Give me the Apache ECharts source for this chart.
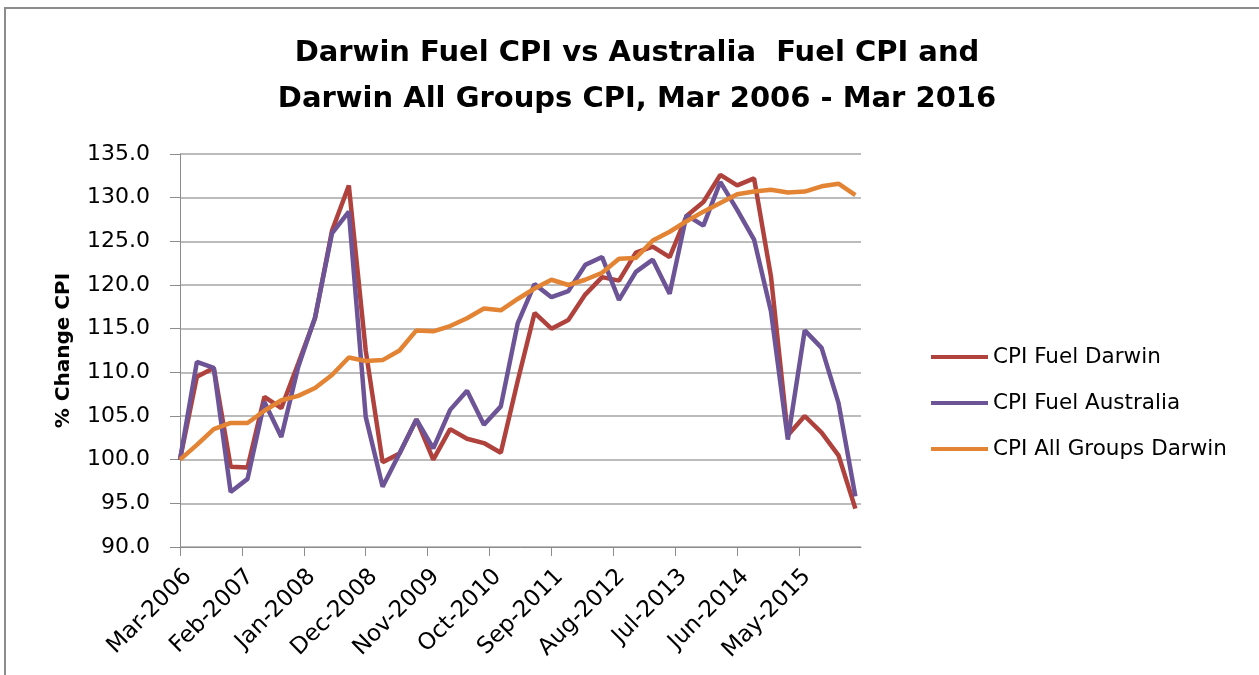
<!DOCTYPE html>
<html>
<head>
<meta charset="utf-8">
<title>Darwin Fuel CPI</title>
<script src="https://cdn.jsdelivr.net/npm/echarts@6/dist/echarts.min.js"></script>
<style>
  html, body { margin: 0; padding: 0; background: #fff; }
  #chart { width: 1259px; height: 675px; }
</style>
</head>
<body>
<div id="chart"></div>
<script>
// quarterly series, Mar-2006 .. Mar-2016 (41 quarters)
const fuelDarwin = [
  100.0, 109.5, 110.5, 99.2, 99.1, 107.2, 105.9, 111.0, 116.2, 126.2,
  131.4, 112.5, 99.7, 100.7, 104.6, 100.0, 103.5, 102.4, 101.9, 100.8,
  109.0, 116.8, 115.0, 116.0, 118.9, 120.9, 120.5, 123.7, 124.4, 123.2,
  127.9, 129.5, 132.6, 131.4, 132.2, 121.0, 102.8, 105.0, 103.1, 100.5,
  94.4
]
const fuelAustralia = [
  100.0, 111.2, 110.5, 96.3, 97.8, 106.6, 102.6, 110.6, 116.3, 125.9,
  128.4, 104.9, 96.9, 100.7, 104.6, 101.3, 105.7, 107.9, 104.0, 106.1,
  115.6, 120.1, 118.6, 119.3, 122.3, 123.2, 118.3, 121.5, 122.9, 119.0,
  128.0, 126.8, 131.8, 128.6, 125.2, 117.0, 102.3, 114.8, 112.8, 106.5,
  95.8
]
const allGroupsDarwin = [
  100.0, 101.7, 103.5, 104.2, 104.2, 105.6, 106.8, 107.3, 108.2, 109.7,
  111.7, 111.3, 111.4, 112.5, 114.8, 114.7, 115.3, 116.2, 117.3, 117.1,
  118.4, 119.6, 120.6, 120.0, 120.6, 121.4, 123.0, 123.1, 125.1, 126.1,
  127.3, 128.4, 129.4, 130.4, 130.7, 130.9, 130.6, 130.7, 131.3, 131.6,
  130.3
]
const seriesNames = ['CPI Fuel Darwin', 'CPI Fuel Australia', 'CPI All Groups Darwin']
const monthNames = ['Jan', 'Feb', 'Mar', 'Apr', 'May', 'Jun', 'Jul', 'Aug', 'Sep', 'Oct', 'Nov', 'Dec']

// x is months since Mar-2006, one point per quarter
const toPoints = (arr) => arr.map((v, i) => [i * 3, v])
const monthLabel = (m) => monthNames[(2 + m) % 12] + '-' + (2006 + Math.floor((2 + m) / 12))

const font = 'DejaVu Sans'
const chart = echarts.init(document.getElementById('chart'), null, { renderer: 'canvas' })

const lineSeries = (name, data, color) => ({
  name: name,
  type: 'line',
  data: toPoints(data),
  symbol: 'none',
  lineStyle: { color: color, width: 4.5 },
  itemStyle: { color: color },
  animation: false
})

chart.setOption({
  backgroundColor: '#fff',
  title: {
    text: 'Darwin Fuel CPI vs Australia  Fuel CPI and\nDarwin All Groups CPI, Mar 2006 - Mar 2016',
    left: 632,
    top: 25,
    textAlign: 'center',
    textStyle: {
      fontFamily: font,
      fontWeight: 'bold',
      fontSize: 29,
      lineHeight: 46,
      color: '#000'
    }
  },
  graphic: [
    {
      // outer chart border (only top/left visible)
      type: 'rect',
      shape: { x: 5, y: 8, width: 1300, height: 700 },
      style: { fill: 'none', stroke: '#8c8c8c', lineWidth: 2 },
      silent: true
    }
  ],
  legend: {
    orient: 'vertical',
    left: 926,
    top: 341,
    itemWidth: 57,
    itemHeight: 14,
    itemGap: 24,
    icon: 'path://M0,6 L56,6 L56,10 L0,10 Z',
    textStyle: { fontFamily: font, fontSize: 21.5, color: '#000', lineHeight: 22 },
    data: seriesNames
  },
  grid: {
    left: 180,
    right: 398,
    top: 154,
    bottom: 128,
    containLabel: false
  },
  xAxis: {
    type: 'value',
    min: 0,
    max: 121,
    interval: 11,
    axisLine: { show: true, lineStyle: { color: '#8c8c8c', width: 1 } },
    axisTick: { show: true, length: 9, lineStyle: { color: '#8c8c8c' } },
    splitLine: { show: false },
    axisLabel: {
      rotate: 45,
      margin: 18,
      align: 'right',
      verticalAlign: 'top',
      showMaxLabel: false,
      fontFamily: font,
      fontSize: 23,
      color: '#000',
      formatter: (v) => monthLabel(v)
    }
  },
  yAxis: {
    type: 'value',
    min: 90,
    max: 135,
    interval: 5,
    name: '% Change CPI',
    nameLocation: 'middle',
    nameGap: 106,
    nameRotate: 90,
    nameTextStyle: { fontFamily: font, fontWeight: 'bold', fontSize: 20, color: '#000' },
    axisLine: { show: true, lineStyle: { color: '#8c8c8c', width: 1 } },
    axisTick: { show: true, inside: false, length: 10, lineStyle: { color: '#8c8c8c' } },
    splitLine: { show: true, lineStyle: { color: '#a6a6a6', width: 1.5 } },
    axisLabel: {
      margin: 30,
      fontFamily: font,
      fontSize: 22,
      color: '#000',
      formatter: (v) => v.toFixed(1)
    }
  },
  series: [
    lineSeries(seriesNames[0], fuelDarwin, '#B0423E'),
    lineSeries(seriesNames[1], fuelAustralia, '#6C5497'),
    lineSeries(seriesNames[2], allGroupsDarwin, '#E38434')
  ]
})
</script>
</body>
</html>
